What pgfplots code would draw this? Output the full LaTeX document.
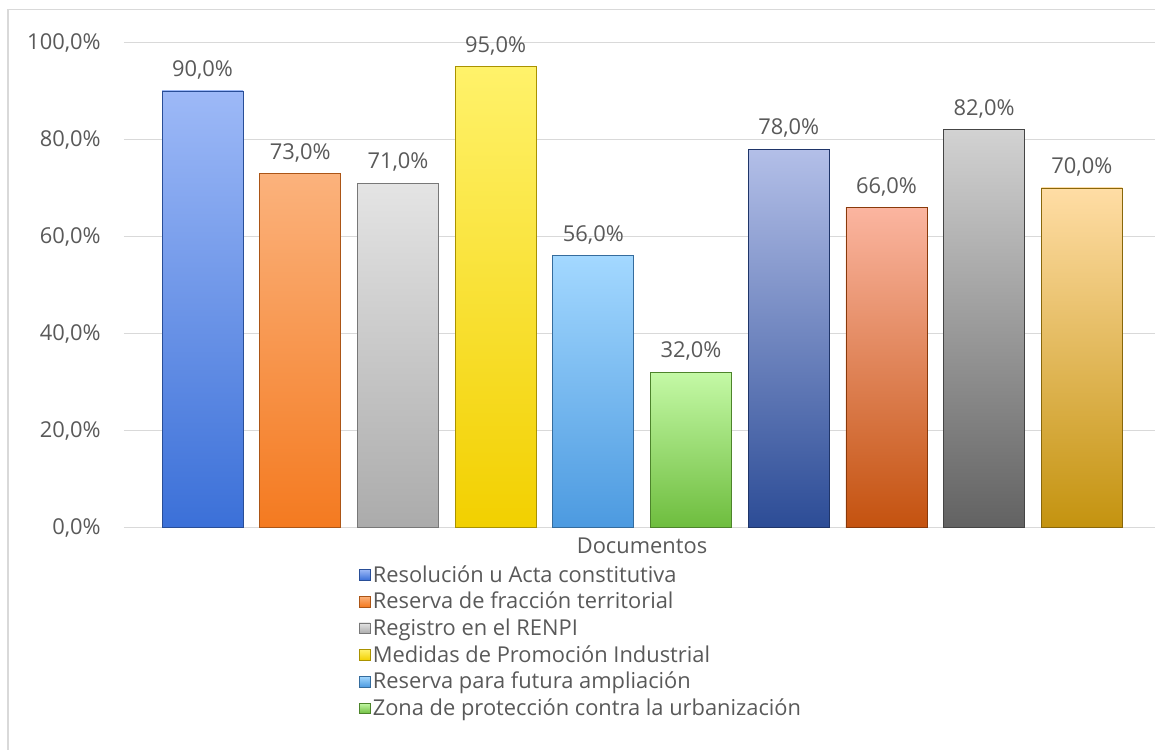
\documentclass[border=0pt]{standalone}
\usepackage{pgfplots}
\pgfplotsset{compat=1.18}
\usepackage{fontspec}
\setmainfont{Open Sans}
\definecolor{txt}{HTML}{595959}
\definecolor{gridc}{HTML}{D9D9D9}
\definecolor{aT}{HTML}{9DB9F7}\definecolor{aB}{HTML}{3B70D8}
\definecolor{bT}{HTML}{FBB27C}\definecolor{bB}{HTML}{F47A20}
\definecolor{cT}{HTML}{E4E4E4}\definecolor{cB}{HTML}{ABABAB}
\definecolor{dT}{HTML}{FFF26A}\definecolor{dB}{HTML}{F2D000}
\definecolor{eT}{HTML}{A3D8FF}\definecolor{eB}{HTML}{4C9AE0}
\definecolor{fT}{HTML}{C4F9A6}\definecolor{fB}{HTML}{6EBD3E}
\definecolor{gT}{HTML}{B3BFE8}\definecolor{gB}{HTML}{2C4C96}
\definecolor{hT}{HTML}{FBB5A0}\definecolor{hB}{HTML}{C4520F}
\definecolor{iT}{HTML}{D2D2D2}\definecolor{iB}{HTML}{626262}
\definecolor{jT}{HTML}{FFDDA5}\definecolor{jB}{HTML}{C4930F}
\newcommand{\fsz}{\fontsize{16.4}{19}\selectfont}

\pgfplotsset{
    barstyle/.style={draw=#1B!70!black, line width=0.6pt, top color=#1T, bottom color=#1B},
}

\begin{document}
\begin{tikzpicture}[x=1pt,y=1pt]
    \useasboundingbox (-93,-166.125) rectangle (773.25,395.625);
    \draw[gridc, line width=1.4pt] (-87,-170) -- (-87,388.5) -- (780,388.5);
    \begin{axis}[
        at={(0,0)}, anchor=south west,
        scale only axis,
        width=777pt, height=363.75pt,
        xmin=0.196, xmax=10.8,
        ymin=0, ymax=100,
        ybar, bar width=0.83, bar shift=0pt,
        axis x line*=bottom, axis y line*=left,
        y axis line style={draw=none},
        x axis line style={draw=gridc, line width=1.4pt},
        xtick=\empty,
        ytick={0,20,40,60,80,100},
        ytick style={draw=none},
        ymajorgrids, grid style={gridc, line width=1pt},
        /pgf/number format/assume math mode=true,
        yticklabel={\pgfmathprintnumber[fixed,fixed zerofill,precision=1,use comma]{\tick}\%},
        yticklabel style={font=\fsz, text=txt, xshift=-14pt},
        xlabel={Documentos},
        xlabel style={font=\fsz, text=txt, yshift=-2pt, inner sep=1pt},
        nodes near coords={\pgfmathprintnumber[fixed,fixed zerofill,precision=1,use comma]{\pgfplotspointmeta}\%},
        nodes near coords style={font=\fsz, text=txt, yshift=5pt},
        legend style={at={(0.2265,-0.072)}, anchor=north west, draw=none, fill=none,
            font=\fsz, text=txt, row sep=2pt, inner sep=0pt},
        legend cell align=left,
        legend image code/.code={\draw[#1, line width=0.4pt] (0pt,-4pt) rectangle (8pt,4pt);},
    ]
        \addplot[barstyle=a] coordinates {(1,90)};
        \addlegendentry{Resolución u Acta constitutiva}
        \addplot[barstyle=b] coordinates {(2,73)};
        \addlegendentry{Reserva de fracción territorial}
        \addplot[barstyle=c] coordinates {(3,71)};
        \addlegendentry{Registro en el RENPI}
        \addplot[barstyle=d] coordinates {(4,95)};
        \addlegendentry{Medidas de Promoción Industrial}
        \addplot[barstyle=e] coordinates {(5,56)};
        \addlegendentry{Reserva para futura ampliación}
        \addplot[barstyle=f] coordinates {(6,32)};
        \addlegendentry{Zona de protección contra la urbanización}
        \addplot[barstyle=g] coordinates {(7,78)};
        \addplot[barstyle=h] coordinates {(8,66)};
        \addplot[barstyle=i] coordinates {(9,82)};
        \addplot[barstyle=j] coordinates {(10,70)};
    \end{axis}
\end{tikzpicture}
\end{document}
